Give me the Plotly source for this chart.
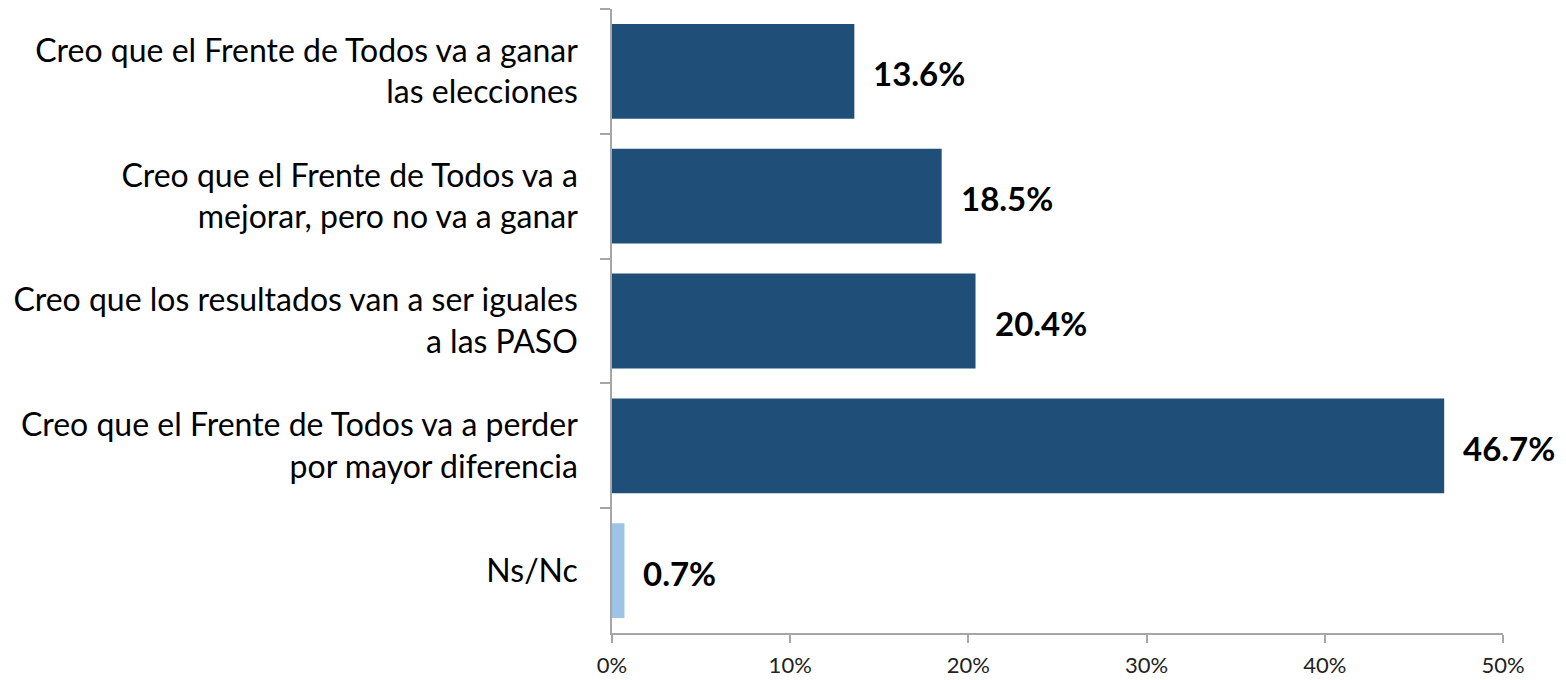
import plotly.graph_objects as go

categories = [
    "Creo que el Frente de Todos va a ganar<br>las elecciones",
    "Creo que el Frente de Todos va a<br>mejorar, pero no va a ganar",
    "Creo que los resultados van a ser iguales<br>a las PASO",
    "Creo que el Frente de Todos va a perder<br>por mayor diferencia",
    "Ns/Nc",
]
values = [13.6, 18.5, 20.4, 46.7, 0.7]
colors = ["#1F4E79", "#1F4E79", "#1F4E79", "#1F4E79", "#9DC3E6"]
x_ticks = [0, 10, 20, 30, 40, 50]
x_tick_labels = ["0%", "10%", "20%", "30%", "40%", "50%"]

fig = go.Figure()
fig.add_trace(go.Bar(
    y=categories, x=values, orientation="h",
    marker=dict(color=colors, line=dict(width=0)),
    width=0.76, hoverinfo="skip",
))

for c, v in zip(categories, values):
    fig.add_annotation(
        x=v, y=c, text="<b>%.1f%%</b>" % v, showarrow=False,
        xanchor="left", xshift=17, yshift=-2,
        font=dict(family="Lato", size=33, color="#000000"),
    )

fig.update_layout(
    width=1558, height=672,
    margin=dict(l=604, r=63, t=1, b=47, autoexpand=False),
    paper_bgcolor="white", plot_bgcolor="white",
    showlegend=False,
    bargap=0.24,
    font=dict(family="Lato", color="#000000"),
)
fig.update_xaxes(
    range=[0, 50], tickvals=x_ticks, ticktext=x_tick_labels,
    showgrid=False, zeroline=False,
    showline=True, linecolor="#A6A6A6", linewidth=1.5,
    ticks="outside", ticklen=8, tickcolor="#A6A6A6", tickwidth=1.5,
    ticklabelstandoff=4,
    tickfont=dict(family="Lato", size=22, color="#222222"),
)
fig.update_yaxes(
    categoryorder="array", categoryarray=categories, autorange="reversed",
    showgrid=False, zeroline=False,
    showline=True, linecolor="#A6A6A6", linewidth=1.5,
    ticks="outside", ticklen=10, tickcolor="#A6A6A6", tickwidth=1.5,
    tickson="boundaries",
    ticklabelstandoff=26,
    tickfont=dict(family="Lato", size=32, color="#000000"),
)

fig.write_html("out.html")
